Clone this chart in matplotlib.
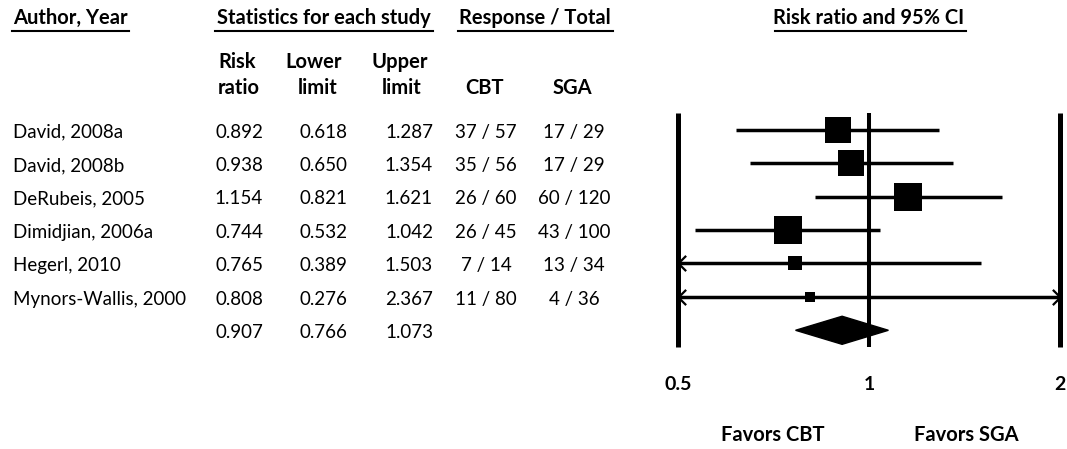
import matplotlib
matplotlib.use("Agg")
import matplotlib.pyplot as plt
from matplotlib.lines import Line2D
from matplotlib.patches import Polygon
from matplotlib.path import Path
from matplotlib import transforms
import numpy as np

plt.rcParams["font.family"] = ["Lato", "DejaVu Sans"]

studies = ["David, 2008a", "David, 2008b", "DeRubeis, 2005", "Dimidjian, 2006a",
           "Hegerl, 2010", "Mynors-Wallis, 2000"]
risk_ratio = [0.892, 0.938, 1.154, 0.744, 0.765, 0.808]
lower = [0.618, 0.650, 0.821, 0.532, 0.389, 0.276]
upper = [1.287, 1.354, 1.621, 1.042, 1.503, 2.367]
cbt = ["37 / 57", "35 / 56", "26 / 60", "26 / 45", "7 / 14", "11 / 80"]
sga = ["17 / 29", "17 / 29", "60 / 120", "43 / 100", "13 / 34", "4 / 36"]
# relative study weights (%), square area follows weight
weights = [20.8, 20.8, 24.3, 24.3, 6.5, 3.3]
pooled = [0.907, 0.766, 1.073]
x_ticks = [0.5, 1, 2]
x_tick_labels = ["0.5", "1", "2"]

W, H = 1067, 449
fig = plt.figure(figsize=(W / 100, H / 100), dpi=100)


def fx(x):
    return x / W


def fy(y):
    return 1 - y / H


# forest panel, log scale between 0.5 and 2
ax = fig.add_axes([fx(678), fy(347), fx(1060) - fx(678), (347 - 113) / H])
ax.set_xscale("log")
ax.set_xlim(x_ticks[0], x_ticks[-1])
n_rows = len(studies) + 1
ax.set_ylim(n_rows - 0.5, -0.5)
for s in ax.spines.values():
    s.set_visible(False)
ax.set_yticks([])
ax.set_xticks(x_ticks)
ax.set_xticklabels(x_tick_labels, fontsize=14, fontweight="bold")
ax.xaxis.set_minor_locator(matplotlib.ticker.NullLocator())
ax.tick_params(axis="x", length=0, pad=21)

for xv, lw in zip(x_ticks, [3.6, 2.9, 3.6]):
    ax.axvline(xv, color="black", lw=lw, clip_on=False, solid_capstyle="butt")

left_head = Path([(1, 1), (0, 0), (1, -1)])
right_head = Path([(-1, 1), (0, 0), (-1, -1)])
head_kw = dict(ms=11, mfc="none", mec="black", mew=1.6, clip_on=False)
lo_lim, hi_lim = x_ticks[0], x_ticks[-1]
for i, (rr, lo, hi, w) in enumerate(zip(risk_ratio, lower, upper, weights)):
    lo_c = max(lo, lo_lim)
    hi_c = min(hi, hi_lim)
    ax.plot([lo_c, hi_c], [i, i], color="black", lw=2.5, solid_capstyle="butt",
            clip_on=False)
    ax.plot(rr, i, marker="s", color="black", ms=3.95 * np.sqrt(w), mew=0,
            clip_on=False)
    # CI runs past the axis: arrow at the cut end
    if lo < lo_lim:
        ax.plot(lo_lim, i, marker=left_head, **head_kw)
    if hi > hi_lim:
        ax.plot(hi_lim, i, marker=right_head, **head_kw)

est, p_lo, p_hi = pooled
row = len(studies)
diamond = Polygon([(p_lo, row), (est, row - 0.42), (p_hi, row), (est, row + 0.42)],
                  closed=True, color="black", clip_on=False)
ax.add_patch(diamond)

# table on the left, rows share the forest y positions
trans = transforms.blended_transform_factory(fig.transFigure, ax.transData)
fs = 13.5
cell = dict(transform=trans, va="center", fontsize=fs)
dy = 0.07
for i, name in enumerate(studies):
    ax.text(fx(13), i + dy, name, ha="left", **cell)
    ax.text(fx(239), i + dy, f"{risk_ratio[i]:.3f}", ha="center", **cell)
    ax.text(fx(323), i + dy, f"{lower[i]:.3f}", ha="center", **cell)
    ax.text(fx(409), i + dy, f"{upper[i]:.3f}", ha="center", **cell)
    ax.text(fx(486), i + dy, cbt[i], ha="center", **cell)
    ax.text(fx(574), i + dy, sga[i], ha="center", **cell)
for xp, v in zip([239, 323, 409], pooled):
    ax.text(fx(xp), row + dy, f"{v:.3f}", ha="center", **cell)

# headers
bold = dict(fontsize=14.5, fontweight="bold", va="center")
fig.text(fx(13), fy(18), "Author, Year", ha="left", **bold)
fig.text(fx(324), fy(18), "Statistics for each study", ha="center", **bold)
fig.text(fx(535), fy(18), "Response / Total", ha="center", **bold)
fig.text(fx(869), fy(18), "Risk ratio and 95% CI", ha="center", **bold)
for x0, x1 in [(12, 129), (215, 433), (458, 613), (775, 966)]:
    fig.add_artist(Line2D([fx(x0), fx(x1)], [fy(31), fy(31)], color="black", lw=1.5))

fig.text(fx(237), fy(62), "Risk", ha="center", **bold)
fig.text(fx(239), fy(88), "ratio", ha="center", **bold)
fig.text(fx(314), fy(62), "Lower", ha="center", **bold)
fig.text(fx(318), fy(88), "limit", ha="center", **bold)
fig.text(fx(400), fy(62), "Upper", ha="center", **bold)
fig.text(fx(402), fy(88), "limit", ha="center", **bold)
fig.text(fx(485), fy(88), "CBT", ha="center", **bold)
fig.text(fx(572), fy(88), "SGA", ha="center", **bold)

fig.text(fx(773), fy(435), "Favors CBT", ha="center", **bold)
fig.text(fx(966), fy(435), "Favors SGA", ha="center", **bold)

fig.savefig("out.png", dpi=100)
